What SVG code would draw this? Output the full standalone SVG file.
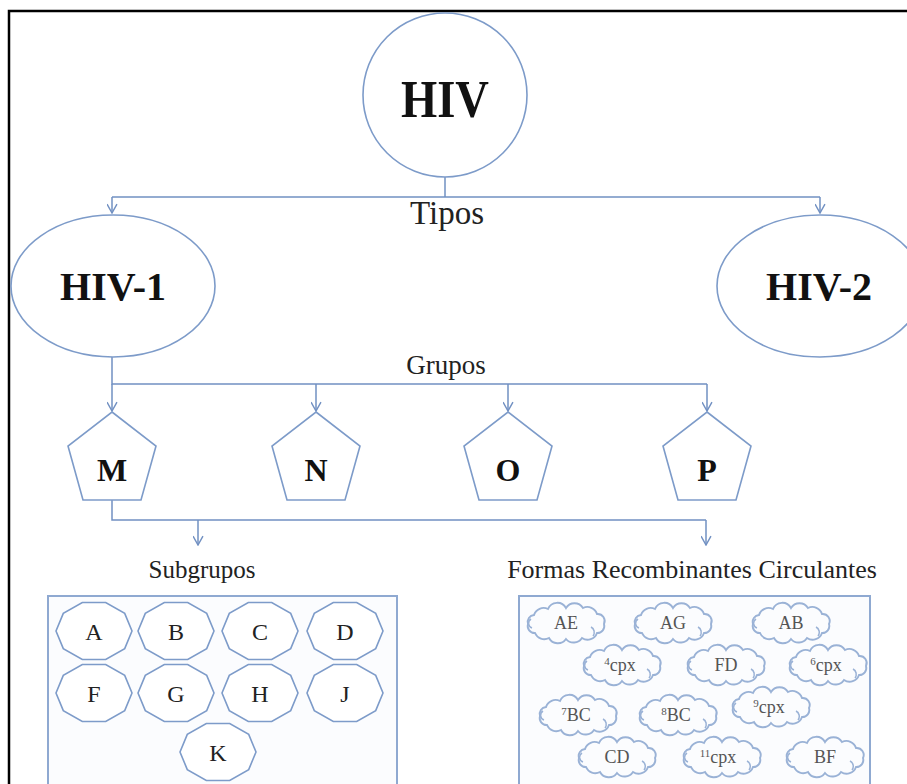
<svg xmlns="http://www.w3.org/2000/svg" xmlns:xlink="http://www.w3.org/1999/xlink" width="907" height="784" viewBox="0 0 907 784">
<style>
.frame{fill:none;stroke:#000;stroke-width:2.5}
.shape{fill:#fff;stroke:#7d9bc9;stroke-width:1.6}
.box{fill:#fbfcfe;stroke:#8fa9d1;stroke-width:2}
.cloud{fill:#fbfcfe;stroke:#9ab2d6;stroke-width:1.9}
.curl{fill:none;stroke:#9ab2d6;stroke-width:1.5}
.conn{fill:none;stroke:#7190c2;stroke-width:1.5}
.big{font-family:"Liberation Serif","Times New Roman",serif;font-weight:bold;fill:#111;text-anchor:middle}
.lbl{font-family:"Liberation Serif","Times New Roman",serif;fill:#222;text-anchor:middle}
.sub{font-family:"Liberation Serif","Times New Roman",serif;font-size:24px;fill:#222;text-anchor:middle}
.crf{font-family:"Liberation Serif","Times New Roman",serif;font-size:18px;fill:#555;text-anchor:middle}
.sup{font-size:11px}
</style>
<defs>
<marker id="arr" viewBox="0 0 10 10" refX="9" refY="5" markerWidth="11" markerHeight="11" markerUnits="userSpaceOnUse" orient="auto">
<path d="M1,0.5 L9,5 L1,9.5" fill="none" stroke="#7190c2" stroke-width="1.3"/>
</marker>
<polygon id="pent" points="0,0 44,34 29,88 -29,88 -44,34"/>
<polygon id="deca" points="38,0 30.7,17.6 11.7,28.5 -11.7,28.5 -30.7,17.6 -38,0 -30.7,-17.6 -11.7,-28.5 11.7,-28.5 30.7,-17.6"/>
<g id="cloud">
<path class="cloud" d="M-38,1 A7,7 0 0 1 -32,-8 A10,10 0 0 1 -18,-14 A10,10 0 0 1 0,-15 A10,10 0 0 1 17,-15 A10,10 0 0 1 31,-9 A7,7 0 0 1 38,1 A7,7 0 0 1 31,10 A10,10 0 0 1 16,15 A10,10 0 0 1 0,16 A10,10 0 0 1 -17,15 A10,10 0 0 1 -31,10 A7,7 0 0 1 -38,1 Z"/>
<path class="curl" d="M-35,-4 A5,5 0 0 0 -34,5 M25,4 A6,6 0 0 1 27,13"/>
</g>
</defs>

<rect class="frame" x="9" y="11" width="905" height="780"/>

<g id="connectors">
<path class="conn" d="M445,177 V197"/>
<path class="conn" d="M112,197 H820"/>
<path class="conn" d="M112,197 V213" marker-end="url(#arr)"/>
<path class="conn" d="M820,197 V213" marker-end="url(#arr)"/>
<path class="conn" d="M112,357 V384 H707"/>
<path class="conn" d="M112,384 V411" marker-end="url(#arr)"/>
<path class="conn" d="M316,384 V411" marker-end="url(#arr)"/>
<path class="conn" d="M508,384 V411" marker-end="url(#arr)"/>
<path class="conn" d="M707,384 V411" marker-end="url(#arr)"/>
<path class="conn" d="M112,500 V520 H706"/>
<path class="conn" d="M198,520 V545" marker-end="url(#arr)"/>
<path class="conn" d="M706,520 V545" marker-end="url(#arr)"/>
</g>

<text class="lbl" x="447" y="224" font-size="33">Tipos</text>
<text class="lbl" x="446" y="374" font-size="27">Grupos</text>
<text class="lbl" x="202" y="578" font-size="25">Subgrupos</text>
<text class="lbl" x="692" y="578" font-size="26">Formas Recombinantes Circulantes</text>

<g id="n-hiv">
<circle class="shape" cx="445" cy="95" r="82"/>
<text class="big" x="445" y="117" font-size="52" textLength="88" lengthAdjust="spacingAndGlyphs">HIV</text>
</g>
<g id="n-hiv1">
<ellipse class="shape" cx="113" cy="286" rx="102" ry="71"/>
<text class="big" x="113" y="300" font-size="40">HIV-1</text>
</g>
<g id="n-hiv2">
<ellipse class="shape" cx="820" cy="286" rx="103" ry="71"/>
<text class="big" x="819" y="300" font-size="40">HIV-2</text>
</g>

<g id="n-M"><use href="#pent" class="shape" x="112" y="412"/><text class="big" x="112" y="481" font-size="32">M</text></g>
<g id="n-N"><use href="#pent" class="shape" x="316" y="412"/><text class="big" x="316" y="481" font-size="32">N</text></g>
<g id="n-O"><use href="#pent" class="shape" x="508" y="412"/><text class="big" x="508" y="481" font-size="32">O</text></g>
<g id="n-P"><use href="#pent" class="shape" x="707" y="412"/><text class="big" x="707" y="481" font-size="32">P</text></g>

<g id="subgrupos">
<rect class="box" x="48" y="596" width="349" height="200"/>
<g id="s-A"><use href="#deca" class="shape" x="94" y="631"/><text class="sub" x="94" y="640">A</text></g>
<g id="s-B"><use href="#deca" class="shape" x="176" y="631"/><text class="sub" x="176" y="640">B</text></g>
<g id="s-C"><use href="#deca" class="shape" x="260" y="631"/><text class="sub" x="260" y="640">C</text></g>
<g id="s-D"><use href="#deca" class="shape" x="345" y="631"/><text class="sub" x="345" y="640">D</text></g>
<g id="s-F"><use href="#deca" class="shape" x="94" y="693"/><text class="sub" x="94" y="702">F</text></g>
<g id="s-G"><use href="#deca" class="shape" x="176" y="693"/><text class="sub" x="176" y="702">G</text></g>
<g id="s-H"><use href="#deca" class="shape" x="260" y="693"/><text class="sub" x="260" y="702">H</text></g>
<g id="s-J"><use href="#deca" class="shape" x="345" y="693"/><text class="sub" x="345" y="702">J</text></g>
<g id="s-K"><use href="#deca" class="shape" x="218" y="752"/><text class="sub" x="218" y="761">K</text></g>
</g>

<g id="crf">
<rect class="box" x="519" y="596" width="351" height="200"/>
<g id="c-AE"><use href="#cloud" x="566" y="623"/><text class="crf" x="566" y="629">AE</text></g>
<g id="c-AG"><use href="#cloud" x="673" y="623"/><text class="crf" x="673" y="629">AG</text></g>
<g id="c-AB"><use href="#cloud" x="791" y="623"/><text class="crf" x="791" y="629">AB</text></g>
<g id="c-4cpx"><use href="#cloud" x="622" y="665"/><text class="crf" x="620" y="671"><tspan class="sup" dy="-6">4</tspan><tspan dy="6">cpx</tspan></text></g>
<g id="c-FD"><use href="#cloud" x="726" y="665"/><text class="crf" x="726" y="671">FD</text></g>
<g id="c-6cpx"><use href="#cloud" x="828" y="665"/><text class="crf" x="826" y="671"><tspan class="sup" dy="-6">6</tspan><tspan dy="6">cpx</tspan></text></g>
<g id="c-7BC"><use href="#cloud" x="578" y="715"/><text class="crf" x="576" y="721"><tspan class="sup" dy="-6">7</tspan><tspan dy="6">BC</tspan></text></g>
<g id="c-8BC"><use href="#cloud" x="678" y="715"/><text class="crf" x="676" y="721"><tspan class="sup" dy="-6">8</tspan><tspan dy="6">BC</tspan></text></g>
<g id="c-9cpx"><use href="#cloud" x="771" y="707"/><text class="crf" x="769" y="713"><tspan class="sup" dy="-6">9</tspan><tspan dy="6">cpx</tspan></text></g>
<g id="c-CD"><use href="#cloud" x="617" y="757"/><text class="crf" x="617" y="763">CD</text></g>
<g id="c-11cpx"><use href="#cloud" x="722" y="757"/><text class="crf" x="718" y="763"><tspan class="sup" dy="-6">11</tspan><tspan dy="6">cpx</tspan></text></g>
<g id="c-BF"><use href="#cloud" x="825" y="757"/><text class="crf" x="825" y="763">BF</text></g>
</g>
</svg>
